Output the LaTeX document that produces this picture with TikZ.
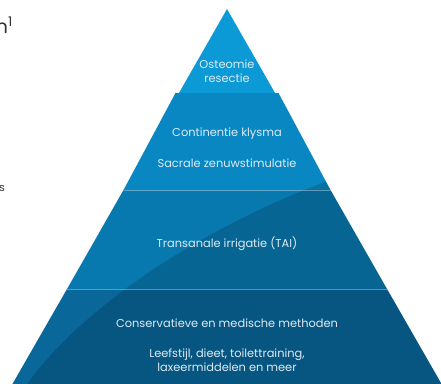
\documentclass[tikz,border=0pt]{standalone}
\usepackage{fontspec}
\setmainfont{Poppins}
\usepackage{xcolor}
\definecolor{tierA}{HTML}{0B9AD5}
\definecolor{tierB}{HTML}{0987C2}
\definecolor{tierC}{HTML}{0879AF}
\definecolor{tierD}{HTML}{09679A}
\definecolor{tekst}{HTML}{DDEBF4}
\definecolor{rand}{HTML}{333333}

\begin{document}
\begin{tikzpicture}[x=1pt,y=-1pt,
		label/.style={text=tekst,font=\fontsize{11.4}{14.5}\selectfont,align=center,inner sep=0pt},
		scheiding/.style={white,opacity=0.35,line width=0.6pt}]
		\useasboundingbox (0,0) rectangle (441,383);

		\coordinate (top) at (227,9);
		\coordinate (lo) at (9,390);
		\coordinate (ro) at (445,390);

		% Tiers (left edge x = 227 - 0.572*(y-9)).
		\fill[tierA] (top) -- (278.5,99) -- (175.5,99) -- cycle;
		\fill[tierB] (175.5,93) -- (278.5,93) -- (330.5,190) -- (123.5,190) -- cycle;
		\fill[tierC] (123.5,190) -- (330.5,190) -- (387,289) -- (67,289) -- cycle;
		\fill[tierD] (67,289) -- (387,289) -- (ro) -- (lo) -- cycle;

		% Darker part under the curve.
		\begin{scope}
			\clip (top) -- (ro) -- (lo) -- cycle;
			\fill[black,opacity=0.16] (20,395) .. controls (60,330) and (170,240) .. (330,180) -- (470,128) -- (470,400) -- cycle;
		\end{scope}

		\draw[scheiding] (123.5,190) -- (330.5,190);
		\draw[scheiding] (67,289) -- (387,289);

		% Labels.
		\node[label] (osteo) at (227,71) {Osteomie\\resectie};
		\node[label] (klysma) at (227,134) {Continentie klysma};
		\node[label] (sacraal) at (227,163) {Sacrale zenuwstimulatie};
		\node[label] (tai) at (227,244) {Transanale irrigatie (TAI)};
		\node[label] (conserv) at (227,323) {Conservatieve en medische methoden};
		\node[label] (leefstijl) at (227,360) {Leefstijl, dieet, toilettraining,\\laxeermiddelen en meer};

		% Cut-off text at the left edge.
		\node[text=rand,font=\fontsize{19}{22}\selectfont,anchor=base east,inner sep=0pt] (kop) at (13,33) {n\textsuperscript{1}};
		\node[text=rand,font=\fontsize{11}{13}\selectfont,anchor=base east,inner sep=0pt] (rest) at (5,191) {s};
	\end{tikzpicture}
\end{document}
